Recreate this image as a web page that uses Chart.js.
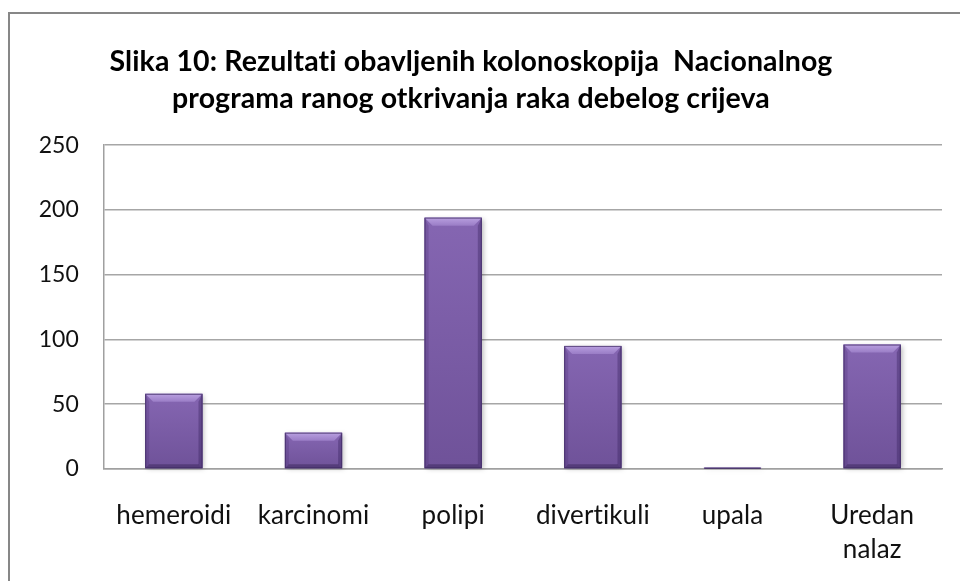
<!DOCTYPE html>
<html lang="hr">
<head>
<meta charset="UTF-8">
<title>Slika 10</title>
<script src="https://cdn.jsdelivr.net/npm/chart.js"></script>
<style>
  html, body { margin: 0; padding: 0; background: #fff; }
  #okvir { width: 960px; height: 581px; }
</style>
</head>
<body>
<div id="okvir"><canvas id="grafikon"></canvas></div>
<script>
// podaci
var kategorije = ['hemeroidi', 'karcinomi', 'polipi', 'divertikuli', 'upala', ['Uredan', 'nalaz']];
var nalazi = [58, 28, 194, 95, 1, 96];
var naslov = ['Slika 10: Rezultati obavljenih kolonoskopija  Nacionalnog', 'programa ranog otkrivanja raka debelog crijeva'];
var osY = [0, 50, 100, 150, 200, 250];

var FONT = 'Lato, "Open Sans", sans-serif';

// sivi okvir oko grafikona (lijevo i gore)
var okvir = {
  id: 'okvir',
  beforeDraw: function (chart) {
    var ctx = chart.ctx;
    // bez ligatura (npr. "ti") u Lato fontu
    if ('letterSpacing' in ctx) ctx.letterSpacing = '0.1px';
    ctx.save();
    ctx.strokeStyle = '#878787';
    ctx.lineWidth = 2;
    ctx.beginPath();
    ctx.moveTo(9, chart.height);
    ctx.lineTo(9, 13);
    ctx.lineTo(chart.width, 13);
    ctx.stroke();
    ctx.restore();
  }
};

// stupci s ukosenim rubom (bevel)
var bevel = {
  id: 'bevel',
  afterDatasetsDraw: function (chart) {
    var ctx = chart.ctx;
    chart.getDatasetMeta(0).data.forEach(function (bar) {
      var p = bar.getProps(['x', 'y', 'base', 'width'], true);
      var l = p.x - p.width / 2, r = p.x + p.width / 2, t = p.y, b = p.base;
      var h = b - t;
      var d = Math.min(8, h / 2, p.width / 2);
      ctx.save();

      // tijelo stupca sa sjenom
      ctx.shadowColor = 'rgba(0,0,0,0.28)';
      ctx.shadowBlur = 5;
      ctx.shadowOffsetX = 2;
      ctx.shadowOffsetY = 1;
      var g = ctx.createLinearGradient(0, t, 0, b);
      g.addColorStop(0, '#8566b2');
      g.addColorStop(1, '#6f5299');
      ctx.fillStyle = g;
      ctx.fillRect(l, t, p.width, h);
      ctx.shadowColor = 'transparent';

      // gornji svijetli rub
      var gt = ctx.createLinearGradient(0, t, 0, t + d);
      gt.addColorStop(0, '#b9a0e0');
      gt.addColorStop(1, '#9a7dc6');
      ctx.fillStyle = gt;
      ctx.beginPath();
      ctx.moveTo(l, t); ctx.lineTo(r, t); ctx.lineTo(r - d, t + d); ctx.lineTo(l + d, t + d);
      ctx.closePath(); ctx.fill();

      // lijevi rub
      ctx.fillStyle = 'rgba(70,45,110,0.25)';
      ctx.beginPath();
      ctx.moveTo(l, t); ctx.lineTo(l + d * 0.5, t + d); ctx.lineTo(l + d * 0.5, b - d * 0.5); ctx.lineTo(l, b);
      ctx.closePath(); ctx.fill();

      // desni rub
      ctx.fillStyle = 'rgba(50,30,85,0.35)';
      ctx.beginPath();
      ctx.moveTo(r, t); ctx.lineTo(r - d * 0.5, t + d); ctx.lineTo(r - d * 0.5, b - d * 0.5); ctx.lineTo(r, b);
      ctx.closePath(); ctx.fill();

      // donji rub
      ctx.fillStyle = 'rgba(45,28,75,0.4)';
      ctx.beginPath();
      ctx.moveTo(l, b); ctx.lineTo(l + d * 0.5, b - d * 0.5); ctx.lineTo(r - d * 0.5, b - d * 0.5); ctx.lineTo(r, b);
      ctx.closePath(); ctx.fill();

      // tamni obrub
      ctx.strokeStyle = 'rgba(60,40,95,0.7)';
      ctx.lineWidth = 1;
      ctx.strokeRect(l + 0.5, t + 0.5, p.width - 1, Math.max(h - 1, 0));
      ctx.restore();
    });
  }
};

var ctx = document.getElementById('grafikon').getContext('2d');
new Chart(ctx, {
  type: 'bar',
  data: {
    labels: kategorije,
    datasets: [{
      data: nalazi,
      backgroundColor: '#7b5ca6',
      barPercentage: 0.41,
      categoryPercentage: 1
    }]
  },
  options: {
    responsive: true,
    maintainAspectRatio: false,
    animation: false,
    layout: { padding: { left: 0, right: 18, top: 22, bottom: 14 } },
    plugins: {
      legend: { display: false },
      tooltip: { enabled: false },
      title: {
        display: true,
        text: naslov,
        color: '#000',
        font: { family: FONT, size: 28.5, weight: 'bold', lineHeight: 1.3 },
        padding: { top: 21, bottom: 28 }
      }
    },
    scales: {
      x: {
        afterFit: function (scale) { scale.height = 98; },
        grid: { display: false, drawTicks: false },
        border: { color: '#a0a0a0', width: 1.5 },
        ticks: {
          color: '#111',
          font: { family: FONT, size: 26, lineHeight: 1.3 },
          padding: 30,
          maxRotation: 0,
          autoSkip: false
        }
      },
      y: {
        min: 0,
        max: 250,
        afterBuildTicks: function (scale) {
          scale.ticks = osY.map(function (v) { return { value: v }; });
        },
        afterFit: function (scale) { scale.width = 104; },
        grid: { color: '#a6a6a6', lineWidth: 1.5, drawTicks: false },
        border: { color: '#a0a0a0', width: 1.5 },
        ticks: {
          color: '#111',
          font: { family: FONT, size: 23 },
          padding: 25
        }
      }
    }
  },
  plugins: [okvir, bevel]
});
</script>
</body>
</html>
